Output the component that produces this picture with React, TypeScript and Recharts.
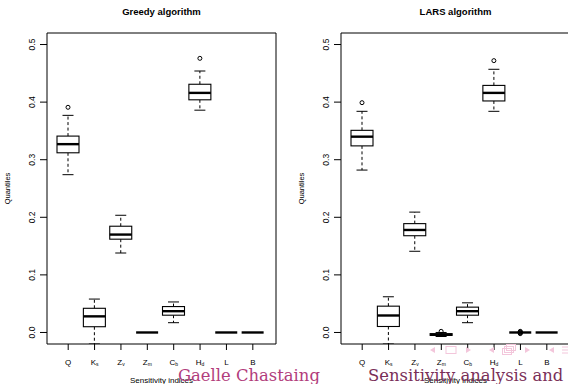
import { ComposedChart, Bar, XAxis, YAxis, ReferenceLine } from "recharts";

const INDICES = ["Q", "Ks", "Zv", "Zm", "Cb", "Hd", "L", "B"];
const LABEL_MAIN = ["Q", "K", "Z", "Z", "C", "H", "L", "B"];
const LABEL_SUB = ["", "s", "v", "m", "b", "d", "", ""];
const Y_TICKS = [0, 0.1, 0.2, 0.3, 0.4, 0.5];

// greedy algorithm: whiskers, quartiles, median, outliers
const GREEDY_LO = [0.274, -0.02, 0.138, 0, 0.017, 0.386, 0, 0];
const GREEDY_Q1 = [0.312, 0.01, 0.162, 0, 0.03, 0.404, 0, 0];
const GREEDY_MED = [0.327, 0.028, 0.17, 0, 0.037, 0.416, 0, 0];
const GREEDY_Q3 = [0.341, 0.042, 0.1845, 0, 0.045, 0.431, 0, 0];
const GREEDY_HI = [0.377, 0.058, 0.2035, 0, 0.053, 0.454, 0, 0];
const GREEDY_OUT: number[][] = [[0.391], [], [], [], [], [0.476], [], []];

// LARS algorithm
const LARS_LO = [0.282, -0.02, 0.141, -0.007, 0.017, 0.384, 0, 0];
const LARS_Q1 = [0.324, 0.0104, 0.168, -0.005, 0.03, 0.402, 0, 0];
const LARS_MED = [0.34, 0.0295, 0.178, -0.004, 0.037, 0.416, 0, 0];
const LARS_Q3 = [0.351, 0.0457, 0.189, -0.002, 0.044, 0.429, 0, 0];
const LARS_HI = [0.384, 0.062, 0.209, 0, 0.0515, 0.457, 0, 0];
const LARS_OUT: number[][] = [[0.399], [], [], [0.002], [], [0.472], [-0.002, -0.001, 0, 0.001, 0.002], []];

const Y_DOMAIN: [number, number] = [-0.02, 0.52];
const FONT = "'Liberation Sans', Arial, Helvetica, sans-serif";
const SERIF = "'DejaVu Serif', 'Liberation Serif', serif";

function rows(lo: number[], q1: number[], med: number[], q3: number[], hi: number[], out: number[][]) {
  return INDICES.map((name, i) => ({
    name,
    lo: lo[i], q1: q1[i], med: med[i], q3: q3[i], hi: hi[i], out: out[i],
    span: [Math.min(lo[i], ...out[i]), Math.max(hi[i], ...out[i])],
  }));
}

const greedyData = rows(GREEDY_LO, GREEDY_Q1, GREEDY_MED, GREEDY_Q3, GREEDY_HI, GREEDY_OUT);
const larsData = rows(LARS_LO, LARS_Q1, LARS_MED, LARS_Q3, LARS_HI, LARS_OUT);

function BoxShape(props: any) {
  const { x, y, width, height, payload } = props;
  const top = Math.min(y, y + height);
  const h = Math.abs(height);
  const [vMin, vMax] = payload.span;
  const py = (v: number) => (vMax === vMin ? top : top + (h * (vMax - v)) / (vMax - vMin));
  const cx = x + width / 2;
  const half = width / 2;
  const cap = width / 4;
  const { lo, q1, med, q3, hi, out } = payload;
  return (
    <g>
      {hi > q3 && (
        <g>
          <line x1={cx} x2={cx} y1={py(q3)} y2={py(hi)} stroke="#000" strokeDasharray="3 2.5" />
          <line x1={cx - cap} x2={cx + cap} y1={py(hi)} y2={py(hi)} stroke="#000" />
        </g>
      )}
      {lo < q1 && (
        <g>
          <line x1={cx} x2={cx} y1={py(q1)} y2={py(lo)} stroke="#000" strokeDasharray="3 2.5" />
          <line x1={cx - cap} x2={cx + cap} y1={py(lo)} y2={py(lo)} stroke="#000" />
        </g>
      )}
      <rect x={cx - half} y={py(q3)} width={width} height={py(q1) - py(q3)} fill="#fff" stroke="#000" strokeWidth={1.1} />
      <line x1={cx - half} x2={cx + half} y1={py(med)} y2={py(med)} stroke="#000" strokeWidth={2.4} />
      {out.map((v: number, k: number) => (
        <circle key={k} cx={cx} cy={py(v)} r={2} fill="none" stroke="#000" strokeWidth={1} />
      ))}
    </g>
  );
}

function XTick(props: any) {
  const { x, y, index } = props;
  return (
    <text x={x} y={y + 12.5} textAnchor="middle" fontFamily={FONT} fontSize={8} fill="#000">
      {LABEL_MAIN[index]}
      {LABEL_SUB[index] && (
        <tspan fontSize={5} dy={1.5}>{LABEL_SUB[index]}</tspan>
      )}
    </text>
  );
}

function YTick(props: any) {
  const { x, y, payload } = props;
  return (
    <text x={x} y={y} textAnchor="middle" fontFamily={FONT} fontSize={8.5} fill="#000" transform={`rotate(-90, ${x}, ${y})`}>
      {Number(payload.value).toFixed(1)}
    </text>
  );
}

function Panel({ data, title }: { data: any[]; title: string }) {
  return (
    <div style={{ position: "relative", width: 290, height: 384 }}>
      <ComposedChart width={290} height={384} data={data} margin={{ top: 33, right: 13, bottom: 0, left: 0 }}>
        <XAxis
          dataKey="name" type="category" height={40}
          padding={{ left: 8, right: 10 }}
          tick={<XTick />} tickSize={6} tickMargin={2} interval={0}
          tickLine={{ stroke: "#000" }} axisLine={{ stroke: "#000" }}
          label={{
            content: (p: any) => (
              <text x={p.viewBox.x + p.viewBox.width / 2} y={p.viewBox.y + 39} textAnchor="middle" fontFamily={FONT} fontSize={8} fill="#000">
                Sensitivity indices
              </text>
            ),
          }}
        />
        <YAxis
          type="number" domain={Y_DOMAIN} ticks={Y_TICKS} allowDataOverflow width={47}
          tick={<YTick />} tickSize={7} tickMargin={5}
          tickLine={{ stroke: "#000" }} axisLine={{ stroke: "#000" }}
          label={{
            content: (p: any) => {
              const cx = p.viewBox.x + 10;
              const cy = p.viewBox.y + p.viewBox.height / 2;
              return (
                <text x={cx} y={cy} textAnchor="middle" fontFamily={FONT} fontSize={7.5} fill="#000" transform={`rotate(-90, ${cx}, ${cy})`}>
                  Quantiles
                </text>
              );
            },
          }}
        />
        {/* right edge of the plot frame */}
        <YAxis
          yAxisId="frame" orientation="right" type="number" domain={Y_DOMAIN} allowDataOverflow width={1}
          tick={false} tickLine={false} axisLine={{ stroke: "#000" }}
        />
        {/* top edge of the plot frame */}
        <ReferenceLine y={Y_DOMAIN[1]} stroke="#000" />
        <Bar dataKey={(d: any) => d.span} barSize={22} shape={<BoxShape />} isAnimationActive={false} />
      </ComposedChart>
      <svg width={290} height={30} style={{ position: "absolute", left: 0, top: 0 }}>
        <text x={161.5} y={15} textAnchor="middle" fontFamily={FONT} fontSize={9.5} fontWeight="bold" fill="#000">
          {title}
        </text>
      </svg>
    </div>
  );
}

const NAV = "#f3c6db";

export default function App() {
  return (
    <div style={{ position: "absolute", left: 0, top: 0, width: 568, height: 384, overflow: "hidden", background: "#fff" }}>
      <div style={{ position: "absolute", left: 0, top: 0 }}>
        <Panel data={greedyData} title="Greedy algorithm" />
      </div>
      <div style={{ position: "absolute", left: 294, top: 0 }}>
        <Panel data={larsData} title="LARS algorithm" />
      </div>
      <svg width={568} height={384} style={{ position: "absolute", left: 0, top: 0, pointerEvents: "none" }}>
        <g fill={NAV} stroke="none">
          <polygon points="430,350 435,347 435,353" />
          <polygon points="471,350 466,347 466,353" />
          <polygon points="489,350 494,347 494,353" />
          <polygon points="530,350 525,347 525,353" />
          <polygon points="549,350 554,347 554,353" />
        </g>
        <g fill="none" stroke={NAV} strokeWidth={1}>
          <rect x={446} y={346.5} width={10} height={7} />
          <rect x={502.5} y={348.5} width={9} height={6} />
          <rect x={504.5} y={346.5} width={9} height={6} />
          <rect x={506.5} y={344.5} width={9} height={6} />
          <line x1={562} x2={568} y1={347} y2={347} />
          <line x1={562} x2={568} y1={350} y2={350} />
          <line x1={562} x2={568} y1={353} y2={353} />
        </g>
        <text x={178} y={381} fontFamily={SERIF} fontSize={16.4} fill="#b23d7c">
          Gaelle Chastaing
        </text>
        <text x={368} y={381} fontFamily={SERIF} fontSize={16.4} fill="#7a2f58">
          Sensitivity analysis and
        </text>
      </svg>
    </div>
  );
}
